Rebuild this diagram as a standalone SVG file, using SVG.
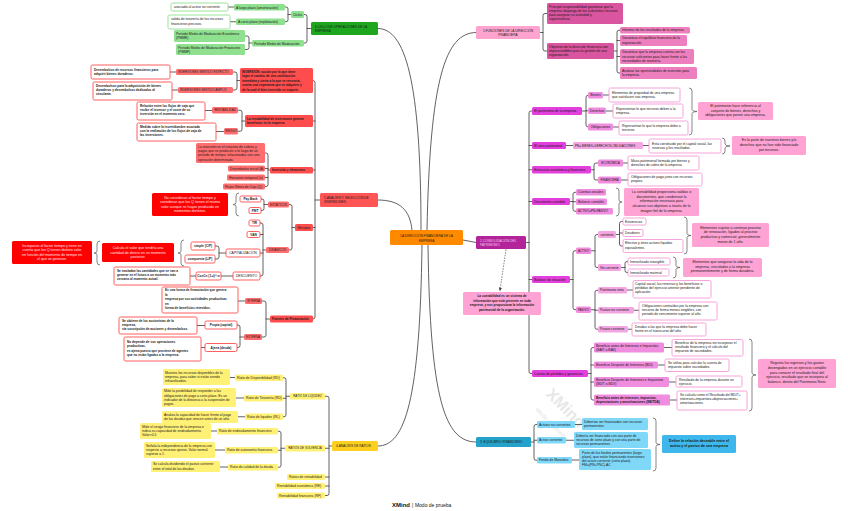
<svg xmlns="http://www.w3.org/2000/svg" width="848" height="511" viewBox="0 0 848 511">
<defs>
<style>
.t{font-family:"Liberation Sans",Arial,sans-serif;font-size:3.4px;fill:#1a1a1a}
.b{font-weight:bold;font-size:3.15px}
.c{text-anchor:middle}
.m{font-size:3.2px}
.s{font-size:3.6px}
.u{font-size:3px}
.wt{fill:#ffe6e6}
.ln{fill:none;stroke:#3a3a3a;stroke-width:0.8;stroke-linecap:round;stroke-linejoin:round}
.br{fill:none;stroke:#555;stroke-width:0.7}
rect{rx:1.5px}
.g1{fill:#1fa61f}.g2{fill:#8fe08f}.gw{fill:#fff;stroke:#8fe08f;stroke-width:0.9}
.r1{fill:#ff5555}.r2{fill:#ff4d4d}.r3{fill:#ff6e6e}.r4{fill:#ff0000}.rw{fill:#fff;stroke:#ff4d4d;stroke-width:0.9}
.y1{fill:#ffcf1f}.y2{fill:#fff176}
.p1{fill:#ffa3cf}.p2{fill:#d9559f}.p3{fill:#ee7fbf}
.q1{fill:#b3249b}.q2{fill:#e33fdd}.q3{fill:#f08ddf}.q4{fill:#f4a6e2}.qw{fill:#fff;stroke:#f59ad8;stroke-width:0.9}.qs{fill:#ffa3d4}
.c1{fill:#25a2c9}.c2{fill:#80d8f8}.c3{fill:#3db7ec}
</style>
<marker id="ah" viewBox="0 0 6 6" refX="5" refY="3" markerWidth="5" markerHeight="5" orient="auto"><path d="M0,0 L6,3 L0,6 z" fill="#444"/></marker>
</defs>
<rect width="848" height="511" fill="#fff" style="rx:0"/>

<!-- watermark -->
<g id="watermark" fill="#d8d8d8" font-family="Liberation Sans, Arial, sans-serif">
<text x="545" y="395" font-size="16" font-weight="bold" transform="rotate(45 545 395)" opacity="0.6">XMind</text>
<text x="535" y="410" font-size="6" transform="rotate(45 535 410)" opacity="0.7">Modo de prueba</text>
</g>

<!-- connectors -->
<g id="connectors">
<path class="ln" d="M421,230 C421,80 405,28.5 378,28.5"/>
<path class="ln" d="M427,230 C430,80 445,32.5 476,32.5"/>
<path class="ln" d="M412,230 C410,210 400,200 378,200"/>
<path class="ln" d="M463,240 L476,242.5"/>
<path class="ln" d="M428,245 C430,400 445,442 476,442"/>
<path class="ln" d="M422,245 C420,400 405,446 378,446"/>
<!-- green -->
<path class="ln" d="M304,14.5 H305 Q307,14.5 307,16.5 V41 Q307,43 305,43 H304 M311,28.5 H307"/>
<path class="ln" d="M285,7 H286 Q288,7 288,9 V19.75 Q288,21.75 286,21.75 H285 M291,14.5 H288"/>
<path class="ln" d="M245,36 H247 Q249,36 249,38 V47.5 Q249,49.5 247,49.5 H245 M252,43 H249"/>
<path class="ln" d="M228,7 H234 M230,21.75 H236"/>
<!-- red -->
<path class="ln" d="M313,80.5 Q315,80.5 315,82.5 V317 Q315,319 313,319 M313,121 H315 M313,170 H315 M313,227.5 H315 M320,200 H315"/>
<path class="ln" d="M233,72 H235 Q237,72 237,74 V88 Q237,90 235,90 H233 M240,80.5 H237 M170,72 H176 M172,90 H178"/>
<path class="ln" d="M238,110.25 H240 Q242,110.25 242,112.25 V129.25 Q242,131.25 240,131.25 H238 M245,121 H242 M205,110.5 H212 M216,131.5 H224"/>
<path class="ln" d="M265,153 H266 Q268,153 268,155 V184.5 Q268,186.5 266,186.5 H265 M265,168.5 H268 M265,177.5 H268 M270,170 H268"/>
<path class="ln" d="M289,204.5 H290 Q292,204.5 292,206.5 V248 Q292,250 290,250 H289 M295,227.5 H292"/>
<path class="ln" d="M261,199 H262 Q264,199 264,201 V208.5 Q264,210.5 262,210.5 H261 M268,204.5 H264"/>
<path class="ln" d="M260,223 H261 Q263,223 263,225 V274 Q263,276 261,276 H260 M260,234.5 H263 M260,253 H263 M266,250 H263"/>
<path class="ln" d="M215,246 H217 Q219,246 219,248 V257 Q219,259 217,259 H215 M226,253 H219"/>
<path class="ln" d="M233,276 H221 M196,276 H190"/>
<path class="ln" d="M262,301 H264 Q266,301 266,303 V335 Q266,337 264,337 H262 M270,319 H266 M245,301 H238"/>
<path class="ln" d="M237,325 H238 Q240,325 240,327 V345.5 Q240,347.5 238,347.5 H237 M244,337 H240 M205,325.5 H197 M205,347.5 H201"/>
<!-- yellow -->
<path class="ln" d="M325,396.25 H327 Q329,396.25 329,398.25 V493.5 Q329,495.5 327,495.5 H325 M325,448.25 H329 M325,477 H329 M325,486 H329 M332,446 H329"/>
<path class="ln" d="M283,377.75 H284 Q286,377.75 286,379.75 V414.75 Q286,416.75 284,416.75 H283 M283,398.25 H286 M290,396.25 H286 M235,377.5 H230 M244,398 H236 M245,416.75 H238"/>
<path class="ln" d="M278,431.25 H279 Q281,431.25 281,433.25 V465.25 Q281,467.25 279,467.25 H278 M278,450.25 H281 M285,448.25 H281 M217,431 H211 M225,450 H215 M228,467 H220"/>
<!-- pink -->
<path class="ln" d="M547,13.5 H545 Q543,13.5 543,15.5 V49 Q543,51 545,51 H547 M540,32.5 H543"/>
<path class="ln" d="M620,30.25 H619 Q617,30.25 617,32.25 V71 Q617,73 619,73 H620 M620,40.5 H617 M620,56.5 H617 M614,51 H617"/>
<!-- magenta -->
<path class="ln" d="M532,111 H531 Q529,111 529,113 V371.5 Q529,373.5 531,373.5 H532 M532,145.5 H529 M532,169.75 H529 M532,201.5 H529 M532,279.5 H529 M526,242.5 H529"/>
<path class="ln" d="M588,95.25 Q586,95.25 586,97.25 V125 Q586,127 588,127 M588,110.75 H586 M582,111 H586 M603,95 H609 M606,111 H613 M613,127 H619"/>
<path class="ln" d="M566,145.5 H573 M643,145.5 H649"/>
<path class="ln" d="M598,163 H596 Q594,163 594,165 V178 Q594,180 596,180 H598 M591,169.75 H594 M623,163 H628 M621,180 H628"/>
<path class="ln" d="M576,192.25 H575 Q573,192.25 573,194.25 V209.25 Q573,211.25 575,211.25 H576 M576,201.75 H573 M570,201.5 H573"/>
<path class="ln" d="M576,250.75 H575 Q573,250.75 573,252.75 V307.75 Q573,309.75 575,309.75 H576 M570,279.5 H573"/>
<path class="ln" d="M598,234.5 H597 Q595,234.5 595,236.5 V265.5 Q595,267.5 597,267.5 H598 M591,250.75 H595"/>
<path class="ln" d="M623,221.5 H621.5 Q619.5,221.5 619.5,223.5 V244 Q619.5,246 621.5,246 H623 M623,233 H619.5 M616,234.5 H619.5"/>
<path class="ln" d="M628,261.5 H627 Q625,261.5 625,263.5 V270.5 Q625,272.5 627,272.5 H628 M621,267.5 H625"/>
<path class="ln" d="M598,290.25 H597 Q595,290.25 595,292.25 V327.25 Q595,329.25 597,329.25 H598 M598,310.25 H595 M591,309.75 H595 M627,290 H633 M634,310.25 H639 M628,329.25 H632"/>
<path class="ln" d="M594,347.5 H593 Q591,347.5 591,349.5 V398 Q591,400 593,400 H594 M594,365 H591 M594,382 H591 M588,373.5 H591 M664,347.5 H672 M658,365 H665 M669,382 H676 M670,400 H677"/>
<!-- blue -->
<path class="ln" d="M537,424.5 H536 Q534,424.5 534,426.5 V458.25 Q534,460.25 536,460.25 H537 M537,440.25 H534 M531,442 H534 M575,424.5 H582 M566,440.25 H574 M572,460 H579"/>
<!-- dashed relation -->
<path d="M506,249.5 Q503,270 500,290.5" fill="none" stroke="#444" stroke-width="0.7" stroke-dasharray="1.5,1.2" marker-end="url(#ah)"/>
</g>

<!-- summary brackets -->
<g id="brackets">
<path class="br" d="M689,88 Q692,88 692,91 V109.5 Q692,111.5 697,111.5 Q692,111.5 692,113.5 V132 Q692,135 689,135"/>
<path class="br" d="M722,138 Q725,138 725,141 V144 Q725,146 730,146 Q725,146 725,148 V151 Q725,154 722,154"/>
<path class="br" d="M616,188 Q619,188 619,191 V200 Q619,202 622,202 Q619,202 619,204 V213 Q619,216 616,216"/>
<path class="br" d="M684,217 Q687,217 687,220 V233.5 Q687,235.5 691,235.5 Q687,235.5 687,237.5 V251 Q687,254 684,254"/>
<path class="br" d="M673,257 Q676,257 676,260 V265.5 Q676,267.5 680,267.5 Q676,267.5 676,269.5 V275 Q676,278 673,278"/>
<path class="br" d="M749,339 Q752,339 752,342 V373 Q752,375 756,375 Q752,375 752,377 V408 Q752,411 749,411"/>
<path class="br" d="M653,418 Q656,418 656,421 V442.5 Q656,444.5 660,444.5 Q656,444.5 656,446.5 V468 Q656,471 653,471"/>
<path class="br" d="M239,193 Q236,193 236,196 V202.5 Q236,204.5 233,204.5 Q236,204.5 236,206.5 V213 Q236,216 239,216"/>
<path class="br" d="M184,240 Q181,240 181,243 V251 Q181,253 178,253 Q181,253 181,255 V263 Q181,266 184,266"/>
<path class="br" d="M100,241 Q97,241 97,244 V251 Q97,253 94,253 Q97,253 97,255 V262 Q97,265 100,265"/>
</g>

<!-- central -->
<g id="central"><rect x="390" y="230" width="73" height="15" fill="#ff8a00"/><text class="t m c" x="426.5" y="236.5">LA DIRECCIÓN FINANCIERA DE LA</text><text class="t m c" x="426.5" y="241.5">EMPRESA</text></g>

<!-- main branches -->
<g id="n6"><rect class="g1" x="311" y="22" width="67" height="13"/><text class="t m" x="315" y="27.5" fill="#0a3a0a">6.CICLO DE OPERACIONES DE LA</text><text class="t m" x="315" y="32">EMPRESA</text></g>
<g id="n1"><rect class="p1" x="476" y="26" width="64" height="13"/><text class="t m c" x="508" y="31.5">1.FUNCIONES DE LA DIRECCIÓN</text><text class="t m c" x="508" y="36">FINANCIERA</text></g>
<g id="n5"><rect class="r1" x="320" y="193" width="58" height="14"/><text class="t m" x="324" y="198.7">5.ANÁLISIS Y SELECCIÓN DE</text><text class="t m" x="324" y="203.2">INVERSIONES</text></g>
<g id="n2"><rect class="q1" x="476" y="236" width="50" height="13"/><text class="t m" x="480" y="241.5" style="fill:#f5c8ee">2.CONSOLIDACIÓN DEL</text><text class="t m" x="480" y="246" style="fill:#f5c8ee">PATRIMONIO</text></g>
<g id="n3"><rect class="c1" x="476" y="437" width="55" height="10"/><text class="t m" x="480" y="443.3">3. EQUILIBRIO FINANCIERO</text></g>
<g id="n4"><rect class="y1" x="332" y="441" width="46" height="10"/><text class="t m" x="336" y="447.3">4.ANALISIS DE RATIOS</text></g>

<!-- green branch -->
<g id="ciclos"><rect class="g2" x="291" y="11" width="13" height="7"/><text class="t c" x="297.5" y="15.7">Ciclos</text></g>
<g id="pmm"><rect class="g2" x="252" y="40" width="52" height="6.5"/><text class="t" x="254" y="44.5">Período Medio de Maduración</text></g>
<g id="alargo"><rect class="g2" x="234" y="4" width="51" height="6.5"/><text class="t" x="236" y="8.5">A largo plazo (amortización)</text></g>
<g id="acorto"><rect class="g2" x="236" y="18.5" width="49" height="6.5"/><text class="t" x="238" y="23">A corto plazo (explotación)</text></g>
<g id="alargo-d"><rect class="gw" x="171" y="3" width="57" height="8"/><text class="t" x="174" y="8.2">asociado al activo no corriente</text></g>
<g id="acorto-d"><rect class="gw" x="168" y="15" width="62" height="14"/><text class="t" x="171" y="20.3">salida de tesorería de los recursos</text><text class="t" x="171" y="24.6">financieros precisos.</text></g>
<g id="pmme"><rect class="g2" x="174" y="30" width="71" height="12"/><text class="t" x="176" y="35">Período Medio de Maduración Económico</text><text class="t" x="176" y="39.3">(PMME)</text></g>
<g id="pmmf"><rect class="g2" x="176" y="44" width="69" height="11"/><text class="t" x="178" y="48.6">Período Medio de Maduración Financiero</text><text class="t" x="178" y="52.9">(PMMF)</text></g>

<!-- red branch -->
<g id="inversion"><rect class="r2" x="240" y="68" width="73" height="25"/>
<text class="t b" x="242" y="72.6">INVERSIÓN: acción por la que tiene</text><text class="t b" x="242" y="77.1">lugar el cambio de una satisfacción</text><text class="t b" x="242" y="81.6">inmediata y cierta a la que se renuncia,</text><text class="t b" x="242" y="86.1">contra una esperanza que se adquiere y</text><text class="t b" x="242" y="90.6">de la cual el bien invertido es soporte.</text></g>
<g id="estricto"><rect class="r3" x="176" y="69" width="57" height="6"/><text class="t u" x="178" y="73.1" fill="#600">INVERSIONES SENTIDO ESTRICTO</text></g>
<g id="amplio"><rect class="r3" x="178" y="87" width="55" height="6"/><text class="t u" x="180" y="91.1">INVERSIONES SENTIDO AMPLIO</text></g>
<g id="estricto-d"><rect class="rw" x="91" y="65" width="79" height="14"/><text class="t b" x="94" y="70.7">Desembolsos de recursos financieros para</text><text class="t b" x="94" y="75.1">adquirir bienes duraderos.</text></g>
<g id="amplio-d"><rect class="rw" x="93" y="82" width="79" height="18"/><text class="t b" x="96" y="86.6">Desembolsos para la adquisición de bienes</text><text class="t b" x="96" y="91">duraderos y desembolsos dedicados al</text><text class="t b" x="96" y="95.4">circulante.</text></g>
<g id="rentab-n"><rect class="r2" x="245" y="115" width="68" height="12"/><text class="t b" x="247" y="120">La rentabilidad de inversiones genera</text><text class="t b" x="247" y="124.4">beneficios en la empresa.</text></g>
<g id="rentabilidad"><rect class="r3" x="212" y="107" width="26" height="6.5"/><text class="t u c" x="225" y="111.3">RENTABILIDAD</text></g>
<g id="riesgo"><rect class="r3" x="224" y="128" width="14" height="6.5"/><text class="t u c" x="231" y="132.3">RIESGO</text></g>
<g id="rentab-d"><rect class="rw" x="137" y="102" width="68" height="18"/><text class="t b" x="140" y="106.6">Relación entre los flujos de caja que</text><text class="t b" x="140" y="111">recibe el inversor y el coste de su</text><text class="t b" x="140" y="115.4">inversión en el momento cero.</text></g>
<g id="riesgo-d"><rect class="rw" x="137" y="123" width="79" height="18"/><text class="t b" x="140" y="127.6">Medida sobre la incertidumbre asociada</text><text class="t b" x="140" y="132">con la realización de los flujos de caja de</text><text class="t b" x="140" y="136.4">las inversiones.</text></g>
<g id="elementos"><rect class="r2" x="270" y="167" width="43" height="6.5"/><text class="t b" x="272" y="171.4">Inversión y elementos</text></g>
<g id="conjunto"><rect class="r3" x="196" y="143" width="69" height="20"/><text class="t" x="198" y="147.6">La inversión es el conjunto de cobros y</text><text class="t" x="198" y="152">pagos que se producen a lo largo de un</text><text class="t" x="198" y="156.4">período de tiempo, relacionados con una</text><text class="t" x="198" y="160.8">operación determinada.</text></g>
<g id="desembolso"><rect class="r3" x="228" y="165.5" width="37" height="6"/><text class="t" x="230" y="169.7">Desembolso inicial (A)</text></g>
<g id="horizonte"><rect class="r3" x="227" y="174.5" width="38" height="6"/><text class="t" x="229" y="178.7">Horizonte temporal (n)</text></g>
<g id="flujos"><rect class="r3" x="223" y="183.5" width="42" height="6"/><text class="t" x="225" y="187.7">Flujos Netos de Caja (Q)</text></g>
<g id="metodos"><rect class="r2" x="295" y="224" width="18" height="7"/><text class="t c" x="304" y="228.7">Métodos</text></g>
<g id="estaticos"><rect class="r3" x="268" y="201.5" width="21" height="6"/><text class="t u c" x="278.5" y="205.6">ESTÁTICOS</text></g>
<g id="dinamicos"><rect class="r3" x="266" y="247" width="23" height="6"/><text class="t u c" x="277.5" y="251.1">DINÁMICOS</text></g>
<g id="payback"><rect class="rw" x="240" y="196" width="21" height="6"/><text class="t b c" x="250.5" y="200.1">Pay-Back</text></g>
<g id="pmt"><rect class="rw" x="249" y="207.5" width="12" height="6"/><text class="t b c" x="255" y="211.6">PMT</text></g>
<g id="tir"><rect class="rw" x="249" y="220" width="11" height="6"/><text class="t b c" x="254.5" y="224.1">TIR</text></g>
<g id="van"><rect class="rw" x="247" y="231.5" width="13" height="6"/><text class="t b c" x="253.5" y="235.6">VAN</text></g>
<g id="capitalizacion"><rect class="rw" x="226" y="249" width="34" height="8"/><text class="t c" x="243" y="254.2">CAPITALIZACIÓN</text></g>
<g id="descuento"><rect class="rw" x="233" y="272" width="27" height="8"/><text class="t c" x="246.5" y="277.2">DESCUENTO</text></g>
<g id="simple"><rect class="rw" x="191" y="242" width="24" height="8"/><text class="t b c" x="203" y="247.2">simple (C/P)</text></g>
<g id="compuesta"><rect class="rw" x="185" y="255" width="30" height="8"/><text class="t b c" x="200" y="260.2">compuesta (L/P)</text></g>
<g id="cocn"><rect class="rw" x="196" y="272" width="25" height="8"/><text class="t b c" x="208.5" y="277.2">Co=Cn (1+i)^-n</text></g>
<g id="cocn-d"><rect class="rw" x="114" y="267" width="76" height="18"/><text class="t b" x="117" y="271.6">Se trasladan las cantidades que se van a</text><text class="t b" x="117" y="276">generar en el futuro a un momento más</text><text class="t b" x="117" y="280.4">cercano al momento actual.</text></g>
<g id="fuentes"><rect class="r2" x="270" y="315.5" width="43" height="7"/><text class="t b" x="272" y="320.2">Fuentes de Financiación</text></g>
<g id="interna"><rect class="r3" x="245" y="298" width="17" height="6"/><text class="t u c" x="253.5" y="302.1">INTERNA</text></g>
<g id="externa"><rect class="r3" x="244" y="334" width="18" height="6"/><text class="t u c" x="253" y="338.1">EXTERNA</text></g>
<g id="interna-d"><rect class="rw" x="162" y="287" width="76" height="26"/><text class="t b" x="165" y="291.4">Es una forma de financiación que genera</text><text class="t b" x="165" y="295.8">la</text><text class="t b" x="165" y="300.2">empresa por sus actividades productivas</text><text class="t b" x="165" y="304.6">en</text><text class="t b" x="165" y="309">forma de beneficios retenidos.</text></g>
<g id="propia"><rect class="rw" x="205" y="321" width="32" height="8"/><text class="t b c" x="221" y="326.2">Propia (capital)</text></g>
<g id="ajena"><rect class="rw" x="205" y="343.5" width="32" height="8"/><text class="t b c" x="221" y="348.7">Ajena (deuda)</text></g>
<g id="propia-d"><rect class="rw" x="119" y="317" width="78" height="17"/><text class="t b" x="122" y="321.6">Se obtiene de los accionistas de la</text><text class="t b" x="122" y="326">empresa,</text><text class="t b" x="122" y="330.4">vía suscripción de acciones y desembolsos.</text></g>
<g id="ajena-d"><rect class="rw" x="124" y="337" width="77" height="24"/><text class="t b" x="127" y="342.8">No depende de sus operaciones</text><text class="t b" x="127" y="347.2">productivas,</text><text class="t b" x="127" y="351.6">es ajena puesto que proviene de agentes</text><text class="t b" x="127" y="356">que no están ligados a la empresa.</text></g>
<g id="sum-estaticos"><rect class="r4" x="152" y="193" width="76" height="23"/><text class="t s c wt" x="190" y="198.8">No consideran al factor tiempo y</text><text class="t s c wt" x="190" y="203.3">consideran que los Q tienen el mismo</text><text class="t s c wt" x="190" y="207.8">valor aunque se hayan producido en</text><text class="t s c wt" x="190" y="212.3">momentos distintos.</text></g>
<g id="sum-capit"><rect class="r4" x="102" y="243" width="72" height="19"/><text class="t s c wt" x="138" y="249">Calcula el valor que tendría una</text><text class="t s c wt" x="138" y="253.5">cantidad de dinero en un momento</text><text class="t s c wt" x="138" y="258">posterior.</text></g>
<g id="sum-dinam"><rect class="r4" x="12" y="241" width="80" height="23"/><text class="t s c wt" x="52" y="246.8">Incorporan el factor tiempo y tiene en</text><text class="t s c wt" x="52" y="251.3">cuenta que los Q tienen distinto valor</text><text class="t s c wt" x="52" y="255.8">en función del momento de tiempo en</text><text class="t s c wt" x="52" y="260.3">el que se generan.</text></g>

<!-- yellow branch -->
<g id="liquidez"><rect class="y2" x="290" y="393" width="35" height="6.5"/><text class="t u c" x="307.5" y="397.3">RATIO DE LIQUIDEZ</text></g>
<g id="solvencia"><rect class="y2" x="285" y="445" width="40" height="6.5"/><text class="t u c" x="305" y="449.3">RATIOS DE SOLVENCIA</text></g>
<g id="rrent"><rect class="y2" x="287" y="474" width="38" height="6"/><text class="t" x="289" y="478.1">Ratios de rentabilidad</text></g>
<g id="re"><rect class="y2" x="275" y="483" width="50" height="6"/><text class="t" x="277" y="487.1">Rentabilidad económica (RE)</text></g>
<g id="rf"><rect class="y2" x="277" y="492.5" width="48" height="6"/><text class="t" x="279" y="496.6">Rentabilidad financiera (RF)</text></g>
<g id="rd"><rect class="y2" x="235" y="374.5" width="48" height="6.5"/><text class="t" x="237" y="378.9">Ratio de Disponibilidad (RD)</text></g>
<g id="rt"><rect class="y2" x="244" y="395" width="39" height="6.5"/><text class="t" x="246" y="399.4">Ratio de Tesorería (RD)</text></g>
<g id="rl"><rect class="y2" x="245" y="413.5" width="38" height="6.5"/><text class="t" x="247" y="417.9">Ratio de liquidez (RL)</text></g>
<g id="rd-d"><rect class="y2" x="163" y="369" width="67" height="16"/><text class="t" x="165" y="373.5">Muestra los recursos disponibles de la</text><text class="t" x="165" y="377.8">empresa, para saber si están siendo</text><text class="t" x="165" y="382.1">infrautilizados.</text></g>
<g id="rt-d"><rect class="y2" x="162" y="388" width="74" height="19"/><text class="t" x="164" y="392.4">Mide la posibilidad de responder a las</text><text class="t" x="164" y="396.6">obligaciones de pago a corto plazo. Es un</text><text class="t" x="164" y="400.8">indicador de la distancia a la suspensión de</text><text class="t" x="164" y="405">pagos.</text></g>
<g id="rl-d"><rect class="y2" x="162" y="411" width="76" height="12"/><text class="t" x="164" y="415.8">Analiza la capacidad de hacer frente al pago</text><text class="t" x="164" y="420">de las deudas que vencen antes de un año.</text></g>
<g id="endeud"><rect class="y2" x="217" y="428" width="61" height="6.5"/><text class="t" x="219" y="432.4">Ratio de endeudamiento financiero</text></g>
<g id="autonomia"><rect class="y2" x="225" y="447" width="53" height="6.5"/><text class="t" x="227" y="451.4">Ratio de autonomía financiera</text></g>
<g id="calidad"><rect class="y2" x="228" y="464" width="50" height="6.5"/><text class="t" x="230" y="468.4">Ratio de calidad de la deuda</text></g>
<g id="endeud-d"><rect class="y2" x="140" y="423" width="71" height="16"/><text class="t" x="142" y="427.5">Mide el riesgo financiero de la empresa e</text><text class="t" x="142" y="431.8">indica su capacidad de endeudamiento.</text><text class="t" x="142" y="436.1">Valor&lt;0,5</text></g>
<g id="autonomia-d"><rect class="y2" x="144" y="442" width="71" height="16"/><text class="t" x="146" y="446.5">Señala la independencia de la empresa con</text><text class="t" x="146" y="450.8">respecto a recursos ajenos. Valor normal</text><text class="t" x="146" y="455.1">superior a 1.</text></g>
<g id="calidad-d"><rect class="y2" x="151" y="461" width="69" height="11"/><text class="t" x="153" y="465.4">Se calcula dividiendo el pasivo corriente</text><text class="t" x="153" y="469.7">entre el total de las deudas.</text></g>

<!-- pink branch -->
<g id="principal"><rect class="p2" x="547" y="3" width="76" height="21"/><text class="t" x="549" y="7.8">Principal responsabilidad garantizar que la</text><text class="t" x="549" y="12">empresa disponga de los suficientes recursos</text><text class="t" x="549" y="16.2">para asegurar su actividad y</text><text class="t" x="549" y="20.4">supervivencia.</text></g>
<g id="objetivos"><rect class="p2" x="547" y="43" width="67" height="16"/><text class="t" x="549" y="47.6">Objetivos de la dirección financiera son</text><text class="t" x="549" y="51.8">imprescindibles para la gestión de una</text><text class="t" x="549" y="56">organización.</text></g>
<g id="obj1"><rect class="p3" x="620" y="27" width="70" height="6.5"/><text class="t" x="622" y="31.4">Informar de los resultados de la empresa</text></g>
<g id="obj2"><rect class="p3" x="620" y="35" width="67" height="11"/><text class="t" x="622" y="39.4">Garantizar el equilibrio financiero de la</text><text class="t" x="622" y="43.6">organización.</text></g>
<g id="obj3"><rect class="p3" x="620" y="49" width="74" height="15"/><text class="t" x="622" y="53.4">Garantizar que la empresa cuenta con los</text><text class="t" x="622" y="57.6">recursos suficientes para hacer frente a las</text><text class="t" x="622" y="61.8">necesidades de tesorería.</text></g>
<g id="obj4"><rect class="p3" x="620" y="67" width="77" height="12"/><text class="t" x="622" y="71.6">Analizar las oportunidades de inversión para</text><text class="t" x="622" y="75.8">la empresa</text></g>

<!-- magenta branch -->
<g id="patrimonio"><rect class="q2" x="532" y="107" width="50" height="8"/><text class="t" x="534" y="112.2">El patrimonio de la empresa</text></g>
<g id="ratio"><rect class="q2" x="532" y="142" width="34" height="7"/><text class="t" x="534" y="146.7">El ratio patrimonial</text></g>
<g id="estructura"><rect class="q2" x="532" y="166" width="59" height="7.5"/><text class="t" x="534" y="171">Estructura económica y financiera</text></g>
<g id="documento"><rect class="q2" x="532" y="198" width="38" height="7"/><text class="t" x="534" y="202.7">Documento contable</text></g>
<g id="balance"><rect class="q2" x="532" y="276" width="38" height="7"/><text class="t" x="534" y="280.7">Balance de situación</text></g>
<g id="cuenta"><rect class="q2" x="532" y="370" width="56" height="7"/><text class="t" x="534" y="374.7">Cuenta de pérdidas y ganancias</text></g>
<g id="bienes"><rect class="q3" x="588" y="92" width="15" height="6.5"/><text class="t c" x="595.5" y="96.4">Bienes</text></g>
<g id="derechos"><rect class="q3" x="588" y="107.5" width="18" height="6.5"/><text class="t c" x="597" y="111.9">Derechos</text></g>
<g id="obligaciones"><rect class="q3" x="588" y="123.5" width="25" height="7"/><text class="t c" x="600.5" y="128.2">Obligaciones</text></g>
<g id="pn"><rect class="q4" x="573" y="142" width="70" height="7"/><text class="t u" x="575" y="146.6">PN= BIENES+DERECHOS-OBLIGACIONES</text></g>
<g id="economica"><rect class="q3" x="598" y="159.5" width="25" height="7"/><text class="t u c" x="610.5" y="164.1">ECONÓMICA</text></g>
<g id="financiera"><rect class="q3" x="598" y="176.5" width="23" height="7"/><text class="t u c" x="609.5" y="181.1">FINANCIERA</text></g>
<g id="cuentas"><rect class="q3" x="576" y="189" width="30" height="6.5"/><text class="t" x="578" y="193.4">Cuentas anuales</text></g>
<g id="balcont"><rect class="q3" x="576" y="198.5" width="31" height="6.5"/><text class="t" x="578" y="202.9">Balance contable</text></g>
<g id="acteq"><rect class="q3" x="576" y="208" width="37" height="6.5"/><text class="t u" x="578" y="212.3">ACTIVO=PN+PASIVO</text></g>
<g id="activo"><rect class="q3" x="576" y="247.5" width="15" height="6.5"/><text class="t u c" x="583.5" y="251.8">ACTIVO</text></g>
<g id="pasivo"><rect class="q3" x="576" y="306.5" width="15" height="6.5"/><text class="t u c" x="583.5" y="310.8">PASIVO</text></g>
<g id="corriente"><rect class="q4" x="598" y="231" width="18" height="7"/><text class="t c" x="607" y="235.7">corriente</text></g>
<g id="nocorriente"><rect class="q4" x="598" y="264" width="23" height="7"/><text class="t c" x="609.5" y="268.7">No corriente</text></g>
<g id="pneto"><rect class="q4" x="598" y="287" width="29" height="6.5"/><text class="t" x="600" y="291.4">Patrimonio neto</text></g>
<g id="pnc"><rect class="q4" x="598" y="307" width="36" height="6.5"/><text class="t" x="600" y="311.4">Pasivo no corriente</text></g>
<g id="pc"><rect class="q4" x="598" y="326" width="30" height="6.5"/><text class="t" x="600" y="330.4">Pasivo corriente</text></g>
<g id="bait"><rect class="q3" x="594" y="342.5" width="70" height="10"/><text class="t" x="596" y="346.8">Beneficio antes de Intereses e Impuestos</text><text class="t" x="596" y="350.9">(BAIT o BAII)</text></g>
<g id="bdi"><rect class="q3" x="594" y="361.5" width="64" height="7"/><text class="t" x="596" y="366.2">Beneficio Después de Intereses (BDI)</text></g>
<g id="bdit"><rect class="q3" x="594" y="377" width="75" height="10"/><text class="t" x="596" y="381.3">Beneficio Después de Intereses e Impuestos</text><text class="t" x="596" y="385.4">(BDIT o BDII)</text></g>
<g id="ebitda"><rect class="q3" x="594" y="394.5" width="76" height="11"/><text class="t b" x="596" y="399">Beneficio antes de intereses, impuestos,</text><text class="t b" x="596" y="403.2">depreciaciones y amortizaciones (EBITDA)</text></g>
<g id="bienes-d"><rect class="qw" x="609" y="88" width="71" height="14"/><text class="t" x="612" y="93.6">Elementos de propiedad de una empresa</text><text class="t" x="612" y="97.8">que satisfacen una empresa.</text></g>
<g id="derechos-d"><rect class="qw" x="613" y="104" width="70" height="14"/><text class="t" x="616" y="109.6">Representan lo que terceros deben a la</text><text class="t" x="616" y="113.8">empresa.</text></g>
<g id="obligaciones-d"><rect class="qw" x="619" y="121" width="69" height="14"/><text class="t" x="622" y="126.6">Representan lo que la empresa debe a</text><text class="t" x="622" y="130.8">terceros.</text></g>
<g id="pn-d"><rect class="qw" x="649" y="139" width="72" height="14"/><text class="t" x="652" y="144.6">Está constituido por el capital social, las</text><text class="t" x="652" y="148.8">reservas y los resultados.</text></g>
<g id="economica-d"><rect class="qw" x="628" y="156" width="71" height="14"/><text class="t" x="631" y="161.6">Masa patrimonial formada por bienes y</text><text class="t" x="631" y="165.8">derechos de cobro de la empresa.</text></g>
<g id="financiera-d"><rect class="qw" x="628" y="173" width="74" height="13"/><text class="t" x="631" y="178.1">Obligaciones de pago junto con recursos</text><text class="t" x="631" y="182.3">propios.</text></g>
<g id="existencias"><rect class="qw" x="623" y="218" width="23" height="7"/><text class="t" x="625" y="222.7">Existencias</text></g>
<g id="deudores"><rect class="qw" x="623" y="229.5" width="20" height="7"/><text class="t" x="625" y="234.2">Deudores</text></g>
<g id="efectivo"><rect class="qw" x="623" y="239.5" width="60" height="13"/><text class="t" x="625" y="244.4">Efectivo y otros activos líquidos</text><text class="t" x="625" y="248.6">equivalentes.</text></g>
<g id="intangible"><rect class="qw" x="628" y="258" width="42" height="7"/><text class="t" x="630" y="262.7">Inmovilizado intangible</text></g>
<g id="material"><rect class="qw" x="628" y="269" width="41" height="7"/><text class="t" x="630" y="273.7">Inmovilizado material</text></g>
<g id="pneto-d"><rect class="qw" x="633" y="280.5" width="78" height="17.5"/><text class="t" x="635" y="285">Capital social, las reservas y los beneficios o</text><text class="t" x="635" y="289.2">pérdidas del ejercicio anterior pendiente de</text><text class="t" x="635" y="293.4">aplicación.</text></g>
<g id="pnc-d"><rect class="qw" x="639" y="302" width="78" height="18"/><text class="t" x="642" y="306.6">Obligaciones contraídas por la empresa con</text><text class="t" x="642" y="310.8">terceros de forma menos exigibles, con</text><text class="t" x="642" y="315">periodo de vencimiento superior al año.</text></g>
<g id="pc-d"><rect class="qw" x="632" y="323" width="74" height="13"/><text class="t" x="635" y="328.1">Deudas a las que la empresa debe hacer</text><text class="t" x="635" y="332.3">frente en el transcurso del año.</text></g>
<g id="bait-d"><rect class="qw" x="672" y="339.5" width="71" height="16.5"/><text class="t" x="675" y="343.9">Beneficio de la empresa sin incorporar el</text><text class="t" x="675" y="348.1">resultado financiero y el cálculo del</text><text class="t" x="675" y="352.3">impuesto de sociedades.</text></g>
<g id="bdi-d"><rect class="qw" x="665" y="359" width="64" height="12.5"/><text class="t" x="668" y="364">Se utiliza para calcular la cuenta de</text><text class="t" x="668" y="368.2">impuesto sobre sociedades.</text></g>
<g id="bdit-d"><rect class="qw" x="676" y="376" width="66" height="11"/><text class="t" x="679" y="380.6">Resultado de la empresa durante un</text><text class="t" x="679" y="384.8">ejercicio.</text></g>
<g id="ebitda-d"><rect class="qw" x="677" y="391" width="70" height="19"/><text class="t" x="680" y="395.8">Se calcula como el Resultado del BDIT+</text><text class="t" x="680" y="400">intereses+impuestos+depreciaciones+</text><text class="t" x="680" y="404.2">amortizaciones.</text></g>
<g id="sum-patrimonio"><rect class="qs" x="698" y="102" width="75" height="18"/><text class="t s c" x="735.5" y="106.8">El patrimonio hace referencia al</text><text class="t s c" x="735.5" y="111.5">conjunto de bienes, derechos y</text><text class="t s c" x="735.5" y="116.2">obligaciones que posee una empresa.</text></g>
<g id="sum-pn"><rect class="qs" x="732" y="136" width="74" height="19"/><text class="t s c" x="769" y="141.4">Es la parte de nuestros bienes y/o</text><text class="t s c" x="769" y="146.1">derechos que no han sido financiado</text><text class="t s c" x="769" y="150.8">por terceros.</text></g>
<g id="sum-doc"><rect class="qs" x="624" y="188" width="75" height="28"/><text class="t s c" x="661.5" y="193">La contabilidad proporciona salidas o</text><text class="t s c" x="661.5" y="197.7">documentos, que condensan la</text><text class="t s c" x="661.5" y="202.4">información necesaria para</text><text class="t s c" x="661.5" y="207.1">alcanzar sus objetivos a través de la</text><text class="t s c" x="661.5" y="211.8">imagen fiel de la empresa.</text></g>
<g id="sum-corriente"><rect class="qs" x="692" y="223" width="77" height="24"/><text class="t s c" x="730.5" y="228.6">Elementos sujetos a continuo proceso</text><text class="t s c" x="730.5" y="233.3">de renovación, ligados al proceso</text><text class="t s c" x="730.5" y="238">productivo y comercial, generalmente</text><text class="t s c" x="730.5" y="242.7">menor de 1 año.</text></g>
<g id="sum-nocorriente"><rect class="qs" x="683" y="258" width="79" height="19"/><text class="t s c" x="722.5" y="262.8">Elementos que aseguran la vida de la</text><text class="t s c" x="722.5" y="267.5">empresa, vinculados a la empresa</text><text class="t s c" x="722.5" y="272.2">permanentemente y de forma duradera.</text></g>
<g id="sum-cuenta"><rect class="qs" x="758" y="359" width="78" height="29"/><text class="t s c" x="797" y="364.2">Registra los ingresos y los gastos</text><text class="t s c" x="797" y="368.9">devengados en un ejercicio contable</text><text class="t s c" x="797" y="373.6">para conocer el resultado final del</text><text class="t s c" x="797" y="378.3">ejercicio, resultado que se incorpora al</text><text class="t s c" x="797" y="383">balance, dentro del Patrimonio Neto.</text></g>
<g id="contabilidad"><rect class="qs" x="463" y="292" width="78" height="23"/><text class="t b c" x="502" y="297.4">La contabilidad es un sistema de</text><text class="t b c" x="502" y="301.8">información que está presente en toda</text><text class="t b c" x="502" y="306.2">empresa, y nos proporciona la información</text><text class="t b c" x="502" y="310.6">patrimonial de la organización.</text></g>

<!-- blue branch -->
<g id="anc"><rect class="c2" x="537" y="421" width="38" height="7"/><text class="t" x="539" y="425.7">Activos no corrientes</text></g>
<g id="ac"><rect class="c2" x="537" y="437" width="29" height="6.5"/><text class="t" x="539" y="441.4">Activo corriente</text></g>
<g id="fm"><rect class="c2" x="537" y="457" width="35" height="6.5"/><text class="t" x="539" y="461.4">Fondo de Maniobra</text></g>
<g id="anc-d"><rect class="c2" x="582" y="418" width="66" height="12"/><text class="t" x="584" y="422.6">Deberían ser financiados con recursos</text><text class="t" x="584" y="426.8">permanentes.</text></g>
<g id="ac-d"><rect class="c2" x="574" y="432" width="74" height="16"/><text class="t" x="576" y="436.6">Debería ser financiado con una parte de</text><text class="t" x="576" y="440.8">recursos de corto plazo y con una parte de</text><text class="t" x="576" y="445">recursos permanentes.</text></g>
<g id="fm-d"><rect class="c2" x="579" y="449" width="72" height="21"/><text class="t" x="582" y="453.6">Parte de los fondos permanentes (largo</text><text class="t" x="582" y="457.8">plazo), que están financiando inversiones</text><text class="t" x="582" y="462">del activo corriente (corto plazo).</text><text class="t" x="582" y="466.2">FM=(PN+PNC)-AC</text></g>
<g id="sum-equilibrio"><rect class="c3" x="662" y="435" width="74" height="18"/><text class="t s c" x="699" y="442.2" font-weight="bold">Define la relación deseable entre el</text><text class="t s c" x="699" y="447" font-weight="bold">activo y el pasivo de una empresa</text></g>

<g id="footer"><text x="392" y="507" font-family="Liberation Sans, Arial, sans-serif" font-size="6" fill="#111"><tspan font-weight="bold">XMind</tspan><tspan fill="#555"> | </tspan><tspan font-size="5">Modo de prueba</tspan></text></g>
</svg>
